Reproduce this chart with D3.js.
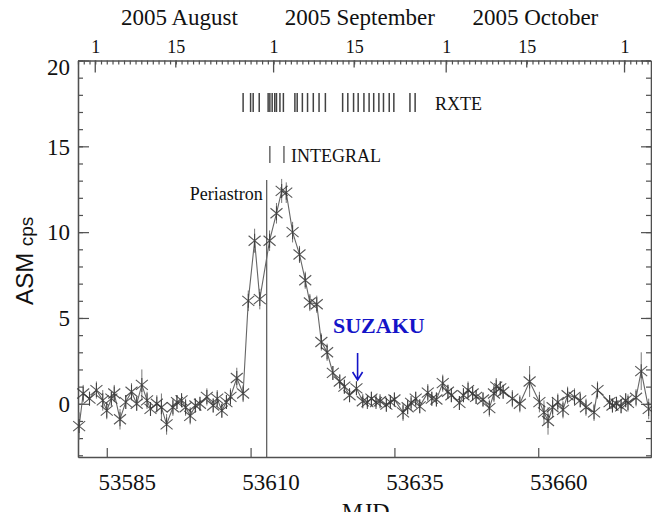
<!DOCTYPE html>
<html><head><meta charset="utf-8">
<script src="https://cdn.jsdelivr.net/npm/d3@7"></script>
<style>body{margin:0;background:#fff;overflow:hidden} svg{display:block}</style>
</head><body><svg id="c" width="652" height="512"></svg>
<script>
// ---- data ----
const mjd = [
53580.2, 53580.9, 53582.0, 53583.2, 53584.3, 53585.0, 53585.8, 53586.3, 53587.3, 53588.3,
53589.3, 53590.2, 53591.1, 53592.0, 53592.6, 53593.7, 53594.5, 53595.4, 53596.5, 53597.2,
53598.0, 53598.7, 53599.5, 53600.4, 53601.2, 53602.4, 53603.5, 53604.2, 53605.0, 53605.8,
53606.5, 53607.6, 53608.7, 53609.6, 53610.7, 53611.6, 53613.3, 53614.5, 53615.4, 53616.2,
53617.3, 53618.5, 53619.5, 53620.3, 53621.5, 53622.3, 53623.3, 53624.3, 53625.5, 53626.3,
53627.2, 53628.4, 53629.5, 53630.3, 53631.0, 53631.8, 53632.5, 53633.6, 53634.3, 53635.0,
53636.5, 53637.3, 53637.9, 53638.7, 53639.4, 53640.8, 53641.5, 53642.3, 53643.4, 53644.3,
53644.9, 53646.3, 53647.0, 53647.8, 53648.6, 53649.2, 53650.4, 53651.5, 53652.3, 53652.7,
53653.4, 53653.9, 53655.5, 53656.8, 53658.5, 53660.2, 53661.0, 53661.7, 53662.5, 53663.4,
53664.3, 53665.1, 53666.3, 53667.3, 53668.3, 53669.7, 53670.3, 53672.4, 53672.9, 53673.6,
53674.4, 53675.2, 53675.6, 53677.0, 53677.9, 53679.2];
const cps = [
-1.3, 0.6, 0.3, 0.8, 0.2, -0.4, 0.3, 0.6, -0.9, 0.1,
0.7, 0.0, 1.1, 0.2, -0.3, 0.0, -0.2, -1.2, -0.2, 0.1,
0.2, -0.2, -0.7, -0.1, 0.0, 0.4, -0.1, 0.3, -0.4, 0.1,
0.4, 1.5, 0.6, 6.0, 9.5, 6.1, 9.5, 11.1, 12.4, 12.3,
10.0, 8.7, 7.2, 5.9, 5.8, 3.6, 3.0, 1.8, 1.3, 1.0,
0.5, 0.9, 0.15, 0.1, 0.3, 0.1, 0.15, -0.05, 0.1, 0.25,
-0.5, -0.2, 0.05, 0.3, -0.15, 0.65, 0.3, 0.25, 1.2, 0.7,
0.5, 0.05, 0.5, 0.8, 0.6, 0.4, 0.25, -0.25, 0.6, 1.0,
0.9, 0.7, 0.3, 0.0, 1.3, 0.1, -0.5, -1.0, -0.2, 0.1,
-0.35, 0.5, 0.4, 0.2, -0.2, -0.5, 0.8, 0.1, -0.1, 0.0,
-0.15, 0.2, 0.05, 0.35, 1.9, -0.3];
const err = [
0.8, 0.5, 0.4, 0.5, 0.6, 0.5, 0.4, 0.5, 0.6, 0.4,
0.5, 0.4, 0.9, 0.5, 0.4, 0.5, 0.8, 0.6, 0.5, 0.4,
0.4, 0.5, 0.5, 0.4, 0.4, 0.5, 0.4, 0.5, 0.4, 0.4,
0.5, 0.6, 0.5, 0.6, 0.7, 0.6, 0.6, 0.6, 0.7, 0.6,
0.6, 0.5, 0.5, 0.5, 0.5, 0.5, 0.5, 0.4, 0.4, 0.4,
0.4, 0.4, 0.3, 0.3, 0.4, 0.3, 0.3, 0.4, 0.3, 0.4,
0.5, 0.4, 0.3, 0.4, 0.4, 0.5, 0.4, 0.4, 0.5, 0.4,
0.4, 0.4, 0.4, 0.5, 0.4, 0.4, 0.4, 0.5, 0.5, 0.5,
0.4, 0.4, 0.5, 0.5, 0.9, 0.6, 0.7, 0.8, 0.6, 0.5,
0.5, 0.5, 0.5, 0.4, 0.5, 0.5, 0.5, 0.4, 0.4, 0.4,
0.4, 0.4, 0.5, 0.5, 1.1, 0.6];
const rxteMJD = [53608.7, 53610.0, 53610.45, 53611.5, 53613.05, 53613.35, 53613.75, 53614.2,
  53614.5, 53615.1, 53615.7, 53617.7, 53618.1, 53619.0, 53619.9, 53620.9, 53621.9, 53623.0,
  53626.0, 53626.9, 53627.9, 53628.7, 53629.7, 53630.6, 53631.4, 53632.3, 53633.1, 53634.1,
  53634.9, 53637.7, 53638.6];
const integralMJD = [53613.35, 53615.8];
const periastronMJD = 53612.8;
const suzakuMJD = 53628.6;
const xTicks = [53585, 53610, 53635, 53660];
const yTicks = [0, 5, 10, 15, 20];
const monthLabels = ["2005 August", "2005 September", "2005 October"];
const monthStart = [53583, 53614, 53644, 53675];
const topTickMJD = [53583, 53597, 53614, 53628, 53644, 53658, 53675];
const topTickText = ["1", "15", "1", "15", "1", "15", "1"];

// ---- layout ----
const L = 78, R = 651, T = 60.5, B = 457;
const SERIF = "'Liberation Serif','Times New Roman',serif";
const SANS = "'Liberation Sans',Arial,sans-serif";
const AX = "#505050";
const svg = d3.select("#c");
const x = d3.scaleLinear().domain([53580, 53679.6]).range([L, R]);
const y = d3.scaleLinear().domain([-3.1, 20]).range([B, T]);

function style(g) {
  g.select(".domain").attr("stroke", AX).attr("stroke-width", 1.3);
  g.selectAll(".tick line").attr("stroke", AX).attr("stroke-width", 1.2);
  g.attr("font-family", SERIF);
}

// bottom axis
const gB = svg.append("g").attr("transform", `translate(0,${B})`)
  .call(d3.axisBottom(x).tickValues(xTicks).tickSizeInner(-9).tickSizeOuter(0).tickPadding(17).tickFormat(d3.format("d")));
style(gB);
gB.selectAll(".tick text").attr("font-size", 23).attr("fill", "#111").attr("x", 20);

// top axis: minor per day, 15th, 1st
const days = d3.range(53580, 53680);
const gT1 = svg.append("g").attr("transform", `translate(0,${T})`)
  .call(d3.axisTop(x).tickValues(days).tickSizeInner(-4).tickSizeOuter(0).tickFormat(""));
style(gT1);
const gT2 = svg.append("g").attr("transform", `translate(0,${T})`)
  .call(d3.axisTop(x).tickValues(topTickMJD).tickSizeInner(-0).tickSizeOuter(0).tickPadding(8)
    .tickFormat((d, i) => topTickText[i]));
style(gT2);
gT2.select(".domain").remove();
gT2.selectAll(".tick line").remove();
gT2.selectAll(".tick text").attr("font-size", 18).attr("fill", "#111");
// major tick marks
svg.append("g").selectAll("line").data(topTickMJD).join("line")
  .attr("x1", d => x(d)).attr("x2", d => x(d))
  .attr("y1", T).attr("y2", (d, i) => T + (topTickText[i] === "1" ? 12 : 7))
  .attr("stroke", AX).attr("stroke-width", 1.3);

// month labels
svg.append("g").selectAll("text").data(monthLabels).join("text")
  .attr("x", (d, i) => x((monthStart[i] + monthStart[i + 1]) / 2) - (i === 0 ? 5 : 0))
  .attr("y", 25).attr("text-anchor", "middle")
  .attr("font-family", SERIF).attr("font-size", 23).attr("fill", "#111").text(d => d);

// left axis
const minorY = d3.range(-3, 21);
const gL1 = svg.append("g").attr("transform", `translate(${L},0)`)
  .call(d3.axisLeft(y).tickValues(minorY).tickSizeInner(-5).tickSizeOuter(0).tickFormat(""));
style(gL1);
const gL2 = svg.append("g").attr("transform", `translate(${L},0)`)
  .call(d3.axisLeft(y).tickValues(yTicks).tickSizeInner(-11).tickSizeOuter(0).tickPadding(8));
style(gL2);
gL2.selectAll(".tick text").attr("font-size", 23).attr("fill", "#111")
  .attr("dy", d => d === 20 ? "0.62em" : "0.34em");

// right axis
const gR1 = svg.append("g").attr("transform", `translate(${R},0)`)
  .call(d3.axisRight(y).tickValues(minorY).tickSizeInner(-5).tickSizeOuter(0).tickFormat(""));
style(gR1);
const gR2 = svg.append("g").attr("transform", `translate(${R},0)`)
  .call(d3.axisRight(y).tickValues(yTicks).tickSizeInner(-10).tickSizeOuter(0).tickFormat(""));
style(gR2);

// axis titles
const yt = svg.append("text").attr("transform", `translate(33,${(T + B) / 2 + 2}) rotate(-90)`)
  .attr("text-anchor", "middle").attr("font-family", SANS).attr("fill", "#111");
yt.append("tspan").attr("font-size", 24).text("ASM ");
yt.append("tspan").attr("font-size", 19).text("cps");
svg.append("text").attr("x", x(53630)).attr("y", 519).attr("text-anchor", "middle")
  .attr("font-family", SERIF).attr("font-size", 24).attr("fill", "#111").text("MJD");

// periastron
svg.append("line").attr("x1", x(periastronMJD)).attr("x2", x(periastronMJD))
  .attr("y1", 180).attr("y2", B).attr("stroke", "#555").attr("stroke-width", 1.2);
svg.append("text").attr("x", x(periastronMJD) - 4).attr("y", 200).attr("text-anchor", "end")
  .attr("font-family", SERIF).attr("font-size", 18).attr("fill", "#111").text("Periastron");

// RXTE
svg.append("g").selectAll("line").data(rxteMJD).join("line")
  .attr("x1", d => x(d)).attr("x2", d => x(d)).attr("y1", 93).attr("y2", 112)
  .attr("stroke", "#222").attr("stroke-width", 1.5).attr("opacity", 0.85);
svg.append("text").attr("x", 435).attr("y", 110).attr("font-family", SERIF)
  .attr("font-size", 18).attr("fill", "#111").text("RXTE");

// INTEGRAL
svg.append("g").selectAll("line").data(integralMJD).join("line")
  .attr("x1", d => x(d)).attr("x2", d => x(d)).attr("y1", 146).attr("y2", 163)
  .attr("stroke", "#444").attr("stroke-width", 1.2);
svg.append("text").attr("x", x(integralMJD[1]) + 7).attr("y", 162).attr("font-family", SERIF)
  .attr("font-size", 18).attr("fill", "#111").text("INTEGRAL");

// light curve
const pts = mjd.map((m, i) => ({ m, c: cps[i], e: err[i] }));
const plot = svg.append("g");
plot.selectAll("line.err").data(pts).join("line").attr("class", "err")
  .attr("x1", d => x(d.m)).attr("x2", d => x(d.m))
  .attr("y1", d => y(d.c - d.e)).attr("y2", d => y(d.c + d.e))
  .attr("stroke", "#777").attr("stroke-width", 1);
plot.append("path").datum(pts)
  .attr("d", d3.line().x(d => x(d.m)).y(d => y(d.c)))
  .attr("fill", "none").attr("stroke", "#666").attr("stroke-width", 1.1);
const star = "M-6,-5L6,5M-6,5L6,-5M0,-7L0,7";
plot.selectAll("path.st").data(pts).join("path").attr("class", "st")
  .attr("transform", d => `translate(${x(d.m)},${y(d.c)})`)
  .attr("d", star).attr("fill", "none").attr("stroke", "#3a3a3a")
  .attr("stroke-width", 1.1).attr("opacity", 0.85);

// SUZAKU
const BLUE = "#1414c8";
svg.append("text").attr("x", 333).attr("y", 333).attr("font-family", SERIF)
  .attr("font-weight", "bold").attr("font-size", 22).attr("fill", BLUE).text("SUZAKU");
const sx = x(suzakuMJD);
svg.append("path").attr("d", `M${sx},353L${sx},380M${sx - 5},372L${sx},380L${sx + 5},372`)
  .attr("fill", "none").attr("stroke", BLUE).attr("stroke-width", 1.6);
</script></body></html>
